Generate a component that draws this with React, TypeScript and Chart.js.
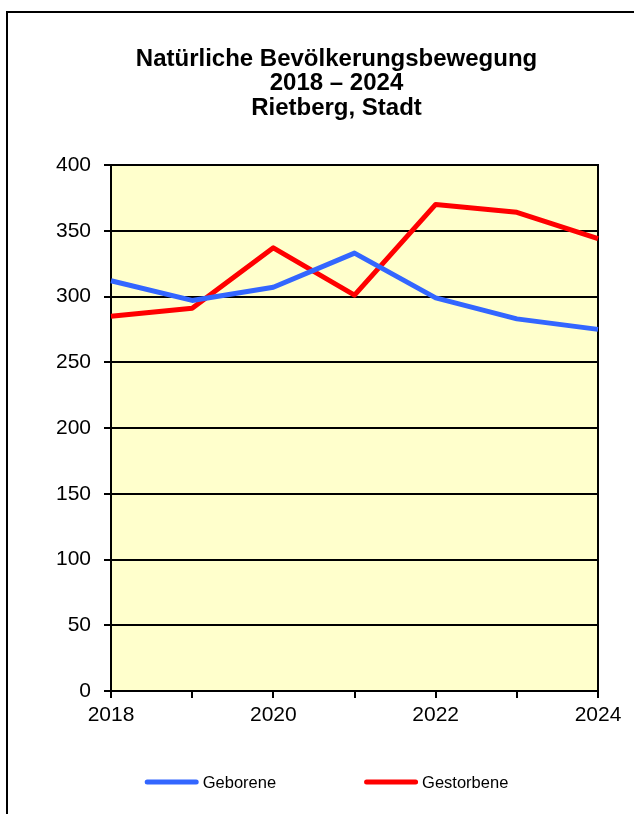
import React, { useEffect, useRef } from "react";
import { Chart, registerables } from "chart.js";

Chart.register(...registerables);

const years = ["2018", "2019", "2020", "2021", "2022", "2023", "2024"];
const geborene = [312, 297, 307, 333, 299, 283, 275];
const gestorbene = [285, 291, 337, 301, 370, 364, 344];
const titleLines = ["Natürliche Bevölkerungsbewegung", "2018 – 2024", "Rietberg, Stadt"];
const seriesNames = ["Geborene", "Gestorbene"];
const seriesColors = ["#3366FF", "#FF0000"];
const yMin = 0;
const yMax = 400;
const yStep = 50;

const FONT = "'Liberation Sans', Arial, Helvetica, sans-serif";

const plotBg = {
  id: "plotBg",
  beforeDraw(chart: any) {
    const { ctx, chartArea } = chart;
    if (!chartArea) return;
    ctx.save();
    ctx.fillStyle = "#FFFFCC";
    ctx.fillRect(chartArea.left, chartArea.top, chartArea.right - chartArea.left, chartArea.bottom - chartArea.top);
    ctx.restore();
  },
  beforeDatasetsDraw(chart: any) {
    const { ctx, chartArea } = chart;
    ctx.save();
    ctx.strokeStyle = "#000";
    ctx.lineWidth = 2;
    ctx.strokeRect(chartArea.left, chartArea.top, chartArea.right - chartArea.left, chartArea.bottom - chartArea.top);
    ctx.restore();
  },
};

// Legend drawn from the datasets (label + colour), laid out in one centred row.
const lineLegend = {
  id: "lineLegend",
  afterDraw(chart: any, _args: any, opts: any) {
    const { ctx } = chart;
    ctx.save();
    ctx.font = `${opts.fontSize}px ${FONT}`;
    const items = chart.data.datasets.map((ds: any) => ({
      label: ds.label,
      color: ds.borderColor,
      w: opts.lineLength + opts.textGap + ctx.measureText(ds.label).width,
    }));
    const total =
      items.reduce((a: number, it: any) => a + it.w, 0) + opts.itemGap * (items.length - 1);
    let x = opts.centerX - total / 2;
    const y = opts.y;
    for (const it of items) {
      ctx.strokeStyle = it.color;
      ctx.lineWidth = opts.lineWidth;
      ctx.lineCap = "round";
      ctx.beginPath();
      ctx.moveTo(x + opts.lineWidth / 2, y);
      ctx.lineTo(x + opts.lineLength - opts.lineWidth / 2, y);
      ctx.stroke();
      ctx.fillStyle = "#000";
      ctx.textAlign = "left";
      ctx.textBaseline = "middle";
      ctx.fillText(it.label, x + opts.lineLength + opts.textGap, y + 1);
      x += it.w + opts.itemGap;
    }
    ctx.restore();
  },
};

export default function App() {
  const ref = useRef<HTMLCanvasElement | null>(null);

  useEffect(() => {
    if (!ref.current) return;
    const chart = new Chart(ref.current, {
      type: "line",
      data: {
        labels: years,
        datasets: [
          {
            label: seriesNames[0],
            data: geborene,
            borderColor: seriesColors[0],
            backgroundColor: seriesColors[0],
            borderWidth: 5,
            pointRadius: 0,
            tension: 0,
            borderJoinStyle: "round",
            yAxisID: "y",
          },
          {
            label: seriesNames[1],
            data: gestorbene,
            borderColor: seriesColors[1],
            backgroundColor: seriesColors[1],
            borderWidth: 5,
            pointRadius: 0,
            tension: 0,
            borderJoinStyle: "round",
            yAxisID: "y",
          },
        ],
      },
      options: {
        responsive: false,
        animation: false,
        devicePixelRatio: 1,
        layout: { padding: { left: 50, right: 11, top: 0, bottom: 83 } },
        plugins: {
          title: {
            display: true,
            text: titleLines,
            color: "#000",
            font: { family: FONT, size: 24, weight: "bold", lineHeight: 24.5 / 24 },
            padding: { top: 46.75, bottom: 44.75 },
          },
          legend: { display: false },
          tooltip: { enabled: false },
          lineLegend: {
            centerX: 326.5,
            y: 782,
            lineLength: 54,
            lineWidth: 5,
            textGap: 4,
            itemGap: 88,
            fontSize: 16.5,
          },
        } as any,
        scales: {
          x: {
            type: "category",
            offset: false,
            afterFit: (s: any) => {
              s.height = 40;
            },
            grid: {
              drawOnChartArea: false,
              drawTicks: true,
              tickLength: 7,
              color: "#000",
              lineWidth: 2,
            },
            border: { display: true, color: "#000", width: 2 },
            ticks: {
              autoSkip: false,
              maxRotation: 0,
              padding: 5,
              color: "#000",
              font: { family: FONT, size: 21 },
              callback: (_v: any, i: number) => (i % 2 === 0 ? years[i] : ""),
            },
          },
          y: {
            min: yMin,
            max: yMax,
            afterFit: (s: any) => {
              s.width = 61;
            },
            grid: {
              color: "#000",
              lineWidth: 2,
              tickLength: 7,
              drawTicks: true,
            },
            border: { display: true, color: "#000", width: 2 },
            ticks: {
              stepSize: yStep,
              padding: 13,
              color: "#000",
              font: { family: FONT, size: 21 },
            },
          },
          yRight: {
            position: "right",
            display: true,
            min: yMin,
            max: yMax,
            afterFit: (s: any) => {
              s.width = 25;
            },
            grid: { display: false, drawTicks: false },
            border: { display: false },
            ticks: { display: false },
          },
        },
      },
      plugins: [plotBg, lineLegend],
    } as any);
    return () => chart.destroy();
  }, []);

  return (
    <div
      style={{
        position: "absolute",
        left: 0,
        top: 0,
        width: 634,
        height: 814,
        overflow: "hidden",
        background: "#fff",
      }}
    >
      <div
        style={{
          position: "absolute",
          left: 6,
          top: 11,
          width: 1000,
          height: 1000,
          borderTop: "2px solid #000",
          borderLeft: "2px solid #000",
        }}
      />
      <canvas
        ref={ref}
        width={634}
        height={814}
        style={{ position: "absolute", left: 0, top: 0, width: 634, height: 814 }}
      />
    </div>
  );
}
